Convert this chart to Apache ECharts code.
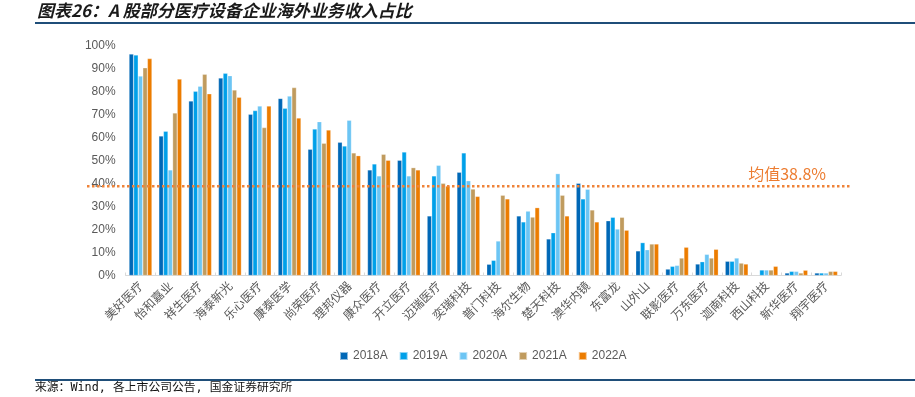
<!DOCTYPE html>
<html>
<head>
<meta charset="utf-8">
<script src="https://cdn.jsdelivr.net/npm/echarts@6/dist/echarts.min.js"></script>
<style>
html,body{margin:0;padding:0;background:#fff;}
#c{width:915px;height:397px;}
</style>
</head>
<body>
<div id="c"></div>
<script>
const categories = ['美好医疗','怡和嘉业','祥生医疗','海泰新光','乐心医疗','康泰医学','尚荣医疗','理邦仪器','康众医疗','开立医疗','迈瑞医疗','奕瑞科技','普门科技','海尔生物','楚天科技','澳华内镜','东富龙','山外山','联影医疗','万东医疗','迦南科技','西山科技','新华医疗','翔宇医疗'];
const seriesNames = ['2018A','2019A','2020A','2021A','2022A'];
const v2018 = [96.3, 60.7, 75.9, 85.9, 70.1, 77.0, 54.9, 57.9, 45.9, 50.1, 25.9, 44.9, 4.9, 25.9, 15.9, 40.1, 23.8, 10.7, 2.8, 5.0, 6.2, null, 1.1, 1.1];
const v2019 = [95.9, 62.7, 80.1, 87.9, 71.7, 72.7, 63.7, 56.3, 48.5, 53.7, 43.3, 53.3, 6.6, 23.3, 18.6, 33.3, 25.3, 14.3, 4.0, 6.0, 6.2, 2.4, 1.8, 1.1];
const v2020 = [86.7, 45.9, 82.3, 86.9, 73.7, 78.0, 66.9, 67.5, 43.3, 43.3, 47.9, 41.2, 15.0, 28.0, 44.3, 37.5, 20.2, 11.2, 4.4, 9.2, 7.6, 2.4, 1.8, 1.1];
const v2021 = [90.3, 70.7, 87.5, 80.7, 64.3, 81.7, 57.5, 53.3, 52.7, 46.9, 40.1, 37.6, 34.9, 25.4, 34.9, 28.5, 25.3, 13.7, 7.6, 7.6, 5.4, 2.4, 1.1, 1.8];
const v2022 = [94.3, 85.4, 79.0, 77.5, 73.7, 68.5, 63.3, 52.1, 50.1, 45.9, 38.9, 34.4, 33.3, 29.5, 25.9, 23.3, 19.7, 13.7, 12.3, 11.4, 5.0, 4.0, 2.3, 1.8];
const meanValue = 38.8;
const meanLabel = '均值38.8%';
const yTicks = [0,10,20,30,40,50,60,70,80,90,100];
const titleText = '图表26：A 股部分医疗设备企业海外业务收入占比';
const sourceText = '来源：Wind, 各上市公司公告, 国金证券研究所';

const colors = ['#0068b7','#00a0e9','#6cc5f4','#c09b5e','#ec7c00'];
const allValues = [v2018, v2019, v2020, v2021, v2022];

const chart = echarts.init(document.getElementById('c'), null, {renderer:'canvas'});

const barSeries = seriesNames.map((n, i) => ({
  name: n,
  type: 'bar',
  xAxisIndex: 0, yAxisIndex: 0,
  data: allValues[i],
  barGap: '0%',
  barCategoryGap: '23%',
  itemStyle: {color: colors[i], borderColor: 'rgba(255,255,255,0.55)', borderWidth: 0.5},
  emphasis: {disabled: true},
  animation: false
}));

const option = {
  animation: false,
  color: colors,
  grid: [
    {left: 125.6, right: 74, top: 45.5, bottom: 121.5, containLabel: false},
    {left: 87, right: 65, top: 45.5, bottom: 121.5, containLabel: false}
  ],
  legend: {
    data: seriesNames,
    left: 334, top: 345,
    icon: 'rect', itemWidth: 8, itemHeight: 8, itemGap: 11,
    textStyle: {color: '#595959', fontSize: 12, fontFamily: 'Liberation Sans, Arial, sans-serif'}
  },
  xAxis: [
    {
      type: 'category', gridIndex: 0, data: categories,
      axisLine: {lineStyle: {color: '#d9d9d9', width: 1}},
      axisTick: {show: true, inside: true, length: 3, lineStyle: {color: '#d9d9d9'}},
      axisLabel: {rotate: 45, color: '#595959', fontSize: 12, margin: 8, interval: 0,
        fontFamily: '"Noto Sans CJK SC", sans-serif'}
    },
    {type: 'value', gridIndex: 1, min: 0, max: 1, show: false}
  ],
  yAxis: [
    {
      type: 'value', gridIndex: 0, min: 0, max: 100, interval: 10,
      axisLine: {show: false}, axisTick: {show: false}, splitLine: {show: false},
      axisLabel: {color: '#595959', fontSize: 12, margin: 10, fontFamily: 'Liberation Sans, Arial, sans-serif',
        formatter: v => (yTicks.indexOf(v) >= 0 ? v + '%' : '')}
    },
    {type: 'value', gridIndex: 1, min: 0, max: 100, show: false}
  ],
  series: barSeries.concat([{
    name: 'mean', type: 'line', xAxisIndex: 1, yAxisIndex: 1,
    data: [[0, meanValue], [1, meanValue]],
    symbol: 'none',
    lineStyle: {color: '#ef8338', width: 2.5, type: [2.5, 2.5]},
    z: 5, silent: true
  }]),
  graphic: [
    {type: 'text', left: 37, top: 2, style: {text: titleText, fill: '#1a1a1a',
      font: 'italic bold 17px "Noto Sans CJK SC", sans-serif'}},
    {type: 'rect', left: 35, top: 22, shape: {width: 880, height: 2}, style: {fill: '#1f4e79'}},
    {type: 'text', right: 89, top: 166, style: {text: meanLabel, fill: '#ec7c30',
      font: '16px "Noto Sans CJK SC", sans-serif'}},
    {type: 'rect', left: 35, top: 379, shape: {width: 880, height: 2}, style: {fill: '#1f4e79'}},
    {type: 'text', left: 35, top: 382, style: {text: sourceText, fill: '#111',
      font: '11.8px "DejaVu Sans Mono", "Noto Sans CJK SC", monospace'}}
  ]
};
chart.setOption(option);
</script>
</body>
</html>
